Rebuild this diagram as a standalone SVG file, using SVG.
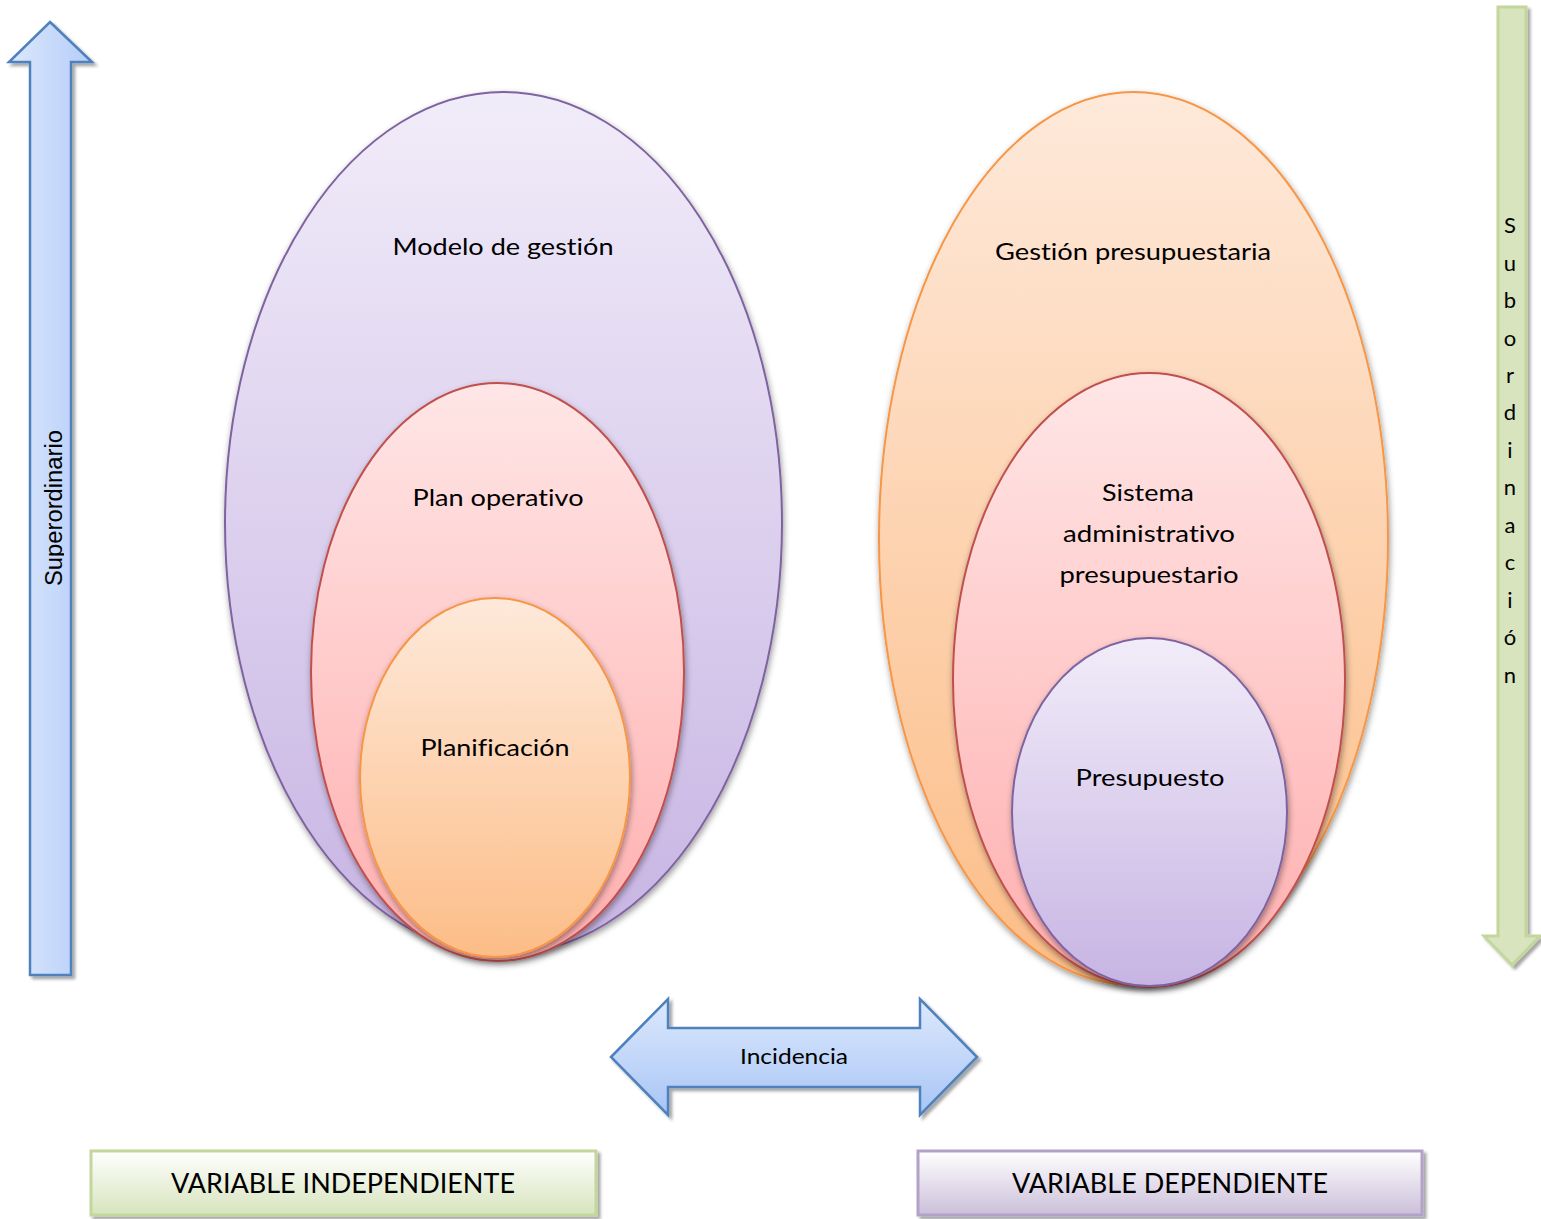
<svg xmlns="http://www.w3.org/2000/svg" width="1541" height="1219" viewBox="0 0 1541 1219">
<style>
text{font-variant-ligatures:none}
.lbl{font-family:Lato,"Open Sans","Liberation Sans",sans-serif;font-size:23px;fill:#000;text-anchor:middle}
.box{font-family:Lato,"Open Sans","Liberation Sans",sans-serif;font-size:27px;fill:#000;text-anchor:middle}
.sub{font-family:Lato,"Open Sans","Liberation Sans",sans-serif;font-size:22px;fill:#000;text-anchor:middle}
.purple{fill:url(#gPurple);stroke:#7f63a1;stroke-width:2}
.pink{fill:url(#gPink);stroke:#c0504d;stroke-width:2}
.orange{fill:url(#gOrange);stroke:#f79646;stroke-width:2}
.blue{stroke:#4f81bd;stroke-width:2.5;stroke-linejoin:miter}
</style>
<defs>
<linearGradient id="gPurple" x1="0" y1="0" x2="0" y2="1"><stop offset="0" stop-color="#f1ecf9"/><stop offset="1" stop-color="#c7b4e3"/></linearGradient>
<linearGradient id="gPink" x1="0" y1="0" x2="0" y2="1"><stop offset="0" stop-color="#ffe6e6"/><stop offset="1" stop-color="#ffaeae"/></linearGradient>
<linearGradient id="gOrange" x1="0" y1="0" x2="0" y2="1"><stop offset="0" stop-color="#fee9da"/><stop offset="1" stop-color="#fcbd87"/></linearGradient>
<linearGradient id="gBlueH" x1="0" y1="0" x2="1" y2="0"><stop offset="0" stop-color="#dce8fd"/><stop offset="1" stop-color="#b5cdf8"/></linearGradient>
<linearGradient id="gBlueV" x1="0" y1="0" x2="0" y2="1"><stop offset="0" stop-color="#dde9fd"/><stop offset="1" stop-color="#a8c5f5"/></linearGradient>
<linearGradient id="gGreenBox" x1="0" y1="0" x2="0" y2="1"><stop offset="0" stop-color="#ffffff"/><stop offset="1" stop-color="#d7e4bd"/></linearGradient>
<linearGradient id="gPurpleBox" x1="0" y1="0" x2="0" y2="1"><stop offset="0" stop-color="#ffffff"/><stop offset="1" stop-color="#cbbfda"/></linearGradient>
<filter id="sh" x="-20%" y="-20%" width="140%" height="140%"><feDropShadow dx="1" dy="3" stdDeviation="3" flood-color="#000" flood-opacity="0.4"/></filter>
<filter id="shb" x="-20%" y="-20%" width="140%" height="140%"><feDropShadow dx="3" dy="3" stdDeviation="1.5" flood-color="#000" flood-opacity="0.35"/></filter>
<clipPath id="clipSup" clipPathUnits="userSpaceOnUse"><rect x="30" y="62" width="34" height="913"/></clipPath>
</defs>

<g id="superordinario-arrow">
<path class="blue" fill="url(#gBlueH)" filter="url(#shb)" d="M50,22 L92,62 L71,62 L71,975 L30,975 L30,62 L9,62 Z"/>
<g clip-path="url(#clipSup)">
<text transform="translate(62,508) rotate(-90)" text-anchor="middle" font-family="'Liberation Sans',Arial,sans-serif" font-size="23" fill="#000" textLength="156" lengthAdjust="spacingAndGlyphs">Superordinario</text>
</g>
</g>

<g id="subordinacion-arrow">
<path fill="#d7e4bd" stroke="#c3d69b" stroke-width="3" filter="url(#shb)" d="M1498,7 L1526,7 L1526,936 L1540,936 L1512,965 L1484,936 L1498,936 Z"/>
<text class="sub" x="1510" y="233">S</text>
<text class="sub" x="1510" y="271">u</text>
<text class="sub" x="1510" y="308">b</text>
<text class="sub" x="1510" y="346">o</text>
<text class="sub" x="1510" y="383">r</text>
<text class="sub" x="1510" y="420">d</text>
<text class="sub" x="1510" y="458">i</text>
<text class="sub" x="1510" y="495">n</text>
<text class="sub" x="1510" y="533">a</text>
<text class="sub" x="1510" y="570">c</text>
<text class="sub" x="1510" y="608">i</text>
<text class="sub" x="1510" y="645">ó</text>
<text class="sub" x="1510" y="683">n</text>
</g>

<g id="modelo-de-gestion">
<ellipse class="purple" filter="url(#sh)" cx="503.5" cy="523" rx="278.5" ry="431"/>
<text class="lbl" x="503" y="255" textLength="221" lengthAdjust="spacingAndGlyphs">Modelo de gestión</text>
</g>
<g id="plan-operativo">
<ellipse class="pink" filter="url(#sh)" cx="497.5" cy="672" rx="186.5" ry="289"/>
<text class="lbl" x="498" y="506" textLength="171" lengthAdjust="spacingAndGlyphs">Plan operativo</text>
</g>
<g id="planificacion">
<ellipse class="orange" filter="url(#sh)" cx="495" cy="777.5" rx="135" ry="179.5"/>
<text class="lbl" x="495" y="756" textLength="149" lengthAdjust="spacingAndGlyphs">Planificación</text>
</g>

<g id="gestion-presupuestaria">
<ellipse class="orange" filter="url(#sh)" cx="1133.5" cy="538.5" rx="254.5" ry="446.5"/>
<text class="lbl" x="1133" y="260" textLength="276" lengthAdjust="spacingAndGlyphs">Gestión presupuestaria</text>
</g>
<g id="sistema-administrativo">
<ellipse class="pink" filter="url(#sh)" cx="1149" cy="680" rx="196" ry="307"/>
<text class="lbl" x="1148" y="501" textLength="92" lengthAdjust="spacingAndGlyphs">Sistema</text>
<text class="lbl" x="1149" y="542" textLength="172" lengthAdjust="spacingAndGlyphs">administrativo</text>
<text class="lbl" x="1149" y="583" textLength="179" lengthAdjust="spacingAndGlyphs">presupuestario</text>
</g>
<g id="presupuesto">
<ellipse class="purple" filter="url(#sh)" cx="1149.5" cy="812" rx="137.5" ry="174"/>
<text class="lbl" x="1150" y="786" textLength="149" lengthAdjust="spacingAndGlyphs">Presupuesto</text>
</g>

<g id="connectors">
<g id="incidencia">
<path class="blue" fill="url(#gBlueV)" filter="url(#shb)" d="M611,1057 L668,999 L668,1028 L920,1028 L920,999 L977,1057 L920,1115 L920,1087 L668,1087 L668,1115 Z"/>
<text x="794" y="1064" text-anchor="middle" font-family="Lato,'Open Sans','Liberation Sans',sans-serif" font-size="21" fill="#000" textLength="108" lengthAdjust="spacingAndGlyphs">Incidencia</text>
</g>
</g>

<g id="variable-independiente">
<rect x="91" y="1151" width="505" height="64" fill="url(#gGreenBox)" stroke="#c3d69b" stroke-width="3" filter="url(#shb)"/>
<text class="box" x="343" y="1193" textLength="344" lengthAdjust="spacingAndGlyphs">VARIABLE INDEPENDIENTE</text>
</g>
<g id="variable-dependiente">
<rect x="918" y="1151" width="504" height="64" fill="url(#gPurpleBox)" stroke="#b3a2c7" stroke-width="3" filter="url(#shb)"/>
<text class="box" x="1170" y="1193" textLength="316" lengthAdjust="spacingAndGlyphs">VARIABLE DEPENDIENTE</text>
</g>
</svg>
